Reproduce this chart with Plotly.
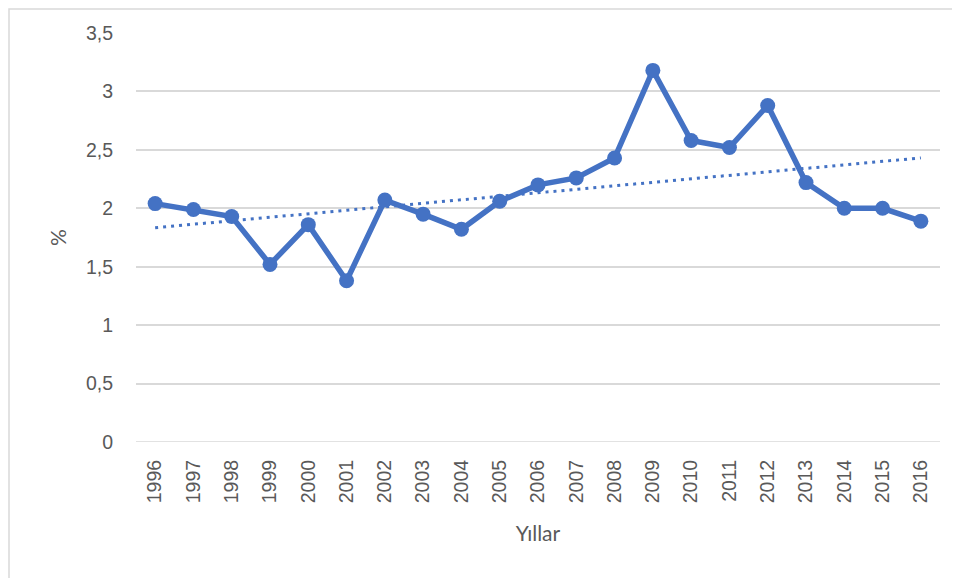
import numpy as np
import plotly.graph_objects as go

years = [str(y) for y in range(1996, 2017)]
values = [2.04, 1.99, 1.93, 1.52, 1.86, 1.38, 2.07, 1.95, 1.82, 2.06, 2.20,
          2.26, 2.43, 3.18, 2.58, 2.52, 2.88, 2.22, 2.00, 2.00, 1.89]
y_ticks = [0, 0.5, 1, 1.5, 2, 2.5, 3, 3.5]
y_tick_labels = ["0", "0,5", "1", "1,5", "2", "2,5", "3", "3,5"]

idx = np.arange(len(values))
slope, intercept = np.polyfit(idx, values, 1)
trend = (slope * idx + intercept).tolist()

BLUE = "#4472C4"
GRID = "#d9d9d9"
TXT = "#595959"

fig = go.Figure()
fig.add_trace(go.Scatter(x=years, y=trend, mode="lines",
                         line=dict(color=BLUE, width=3, dash="3px,5px"),
                         showlegend=False, hoverinfo="skip"))
fig.add_trace(go.Scatter(x=years, y=values, mode="lines+markers",
                         line=dict(color=BLUE, width=5.5),
                         marker=dict(color=BLUE, size=15),
                         showlegend=False))

# page body has an 8px default margin, so the figure is drawn 8px in
OFF = 8
W, H = 960 - OFF, 578 - OFF
L, R, T, B = 136 - OFF, 20, 33 - OFF, 136
pw, ph = W - L - R, H - T - B

def px_x(p):
    return (p - OFF - L) / pw

def px_y(p):
    return (H - B - (p - OFF)) / ph

fig.add_shape(type="rect", xref="paper", yref="paper",
              x0=px_x(9), x1=px_x(975), y0=px_y(9), y1=px_y(600),
              line=dict(color=GRID, width=1.5), fillcolor="rgba(0,0,0,0)",
              layer="below")

fig.update_layout(
    width=W, height=H,
    margin=dict(l=L, r=R, t=T, b=B),
    paper_bgcolor="white", plot_bgcolor="white",
    font=dict(family="Liberation Sans, Arial", color=TXT, size=19),
    xaxis=dict(type="category", range=[-0.5, len(years) - 0.5],
               tickangle=-90, showgrid=False, zeroline=False, showline=False,
               ticks="", ticklabelstandoff=13,
               tickfont=dict(size=19.5, color=TXT),
               title=dict(text="Yıllar", standoff=24,
                          font=dict(family="Lato, Open Sans", size=21, color=TXT))),
    yaxis=dict(range=[0, 3.5], tickvals=y_ticks, ticktext=y_tick_labels,
               showgrid=True, gridcolor=GRID, gridwidth=1.5,
               zeroline=False, showline=False, ticks="",
               ticklabelstandoff=22,
               tickfont=dict(size=19.5, color=TXT),
               title=dict(text="%", standoff=13,
                          font=dict(family="Lato, Open Sans", size=21, color=TXT))),
)
fig.add_hline(y=0, line=dict(color=GRID, width=1.5), layer="below")

fig.write_html("out.html")
